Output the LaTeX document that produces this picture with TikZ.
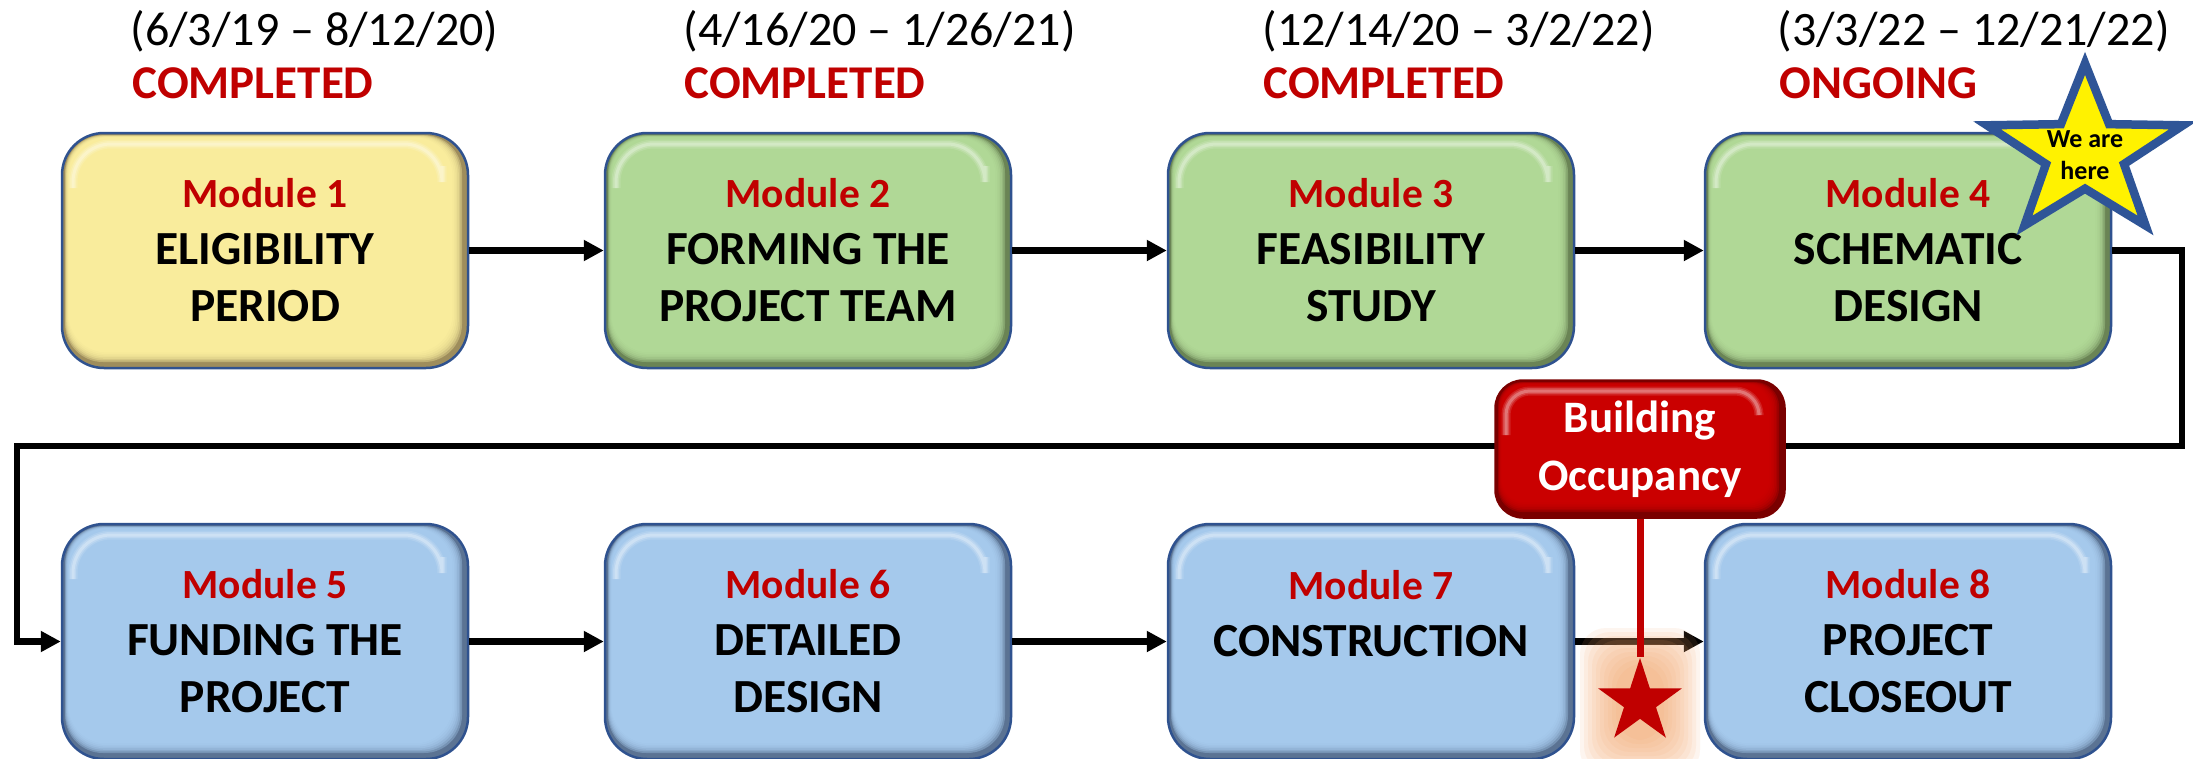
\documentclass[tikz,border=0pt]{standalone}
\usepackage{fontspec}
\setmainfont{Carlito}
\usetikzlibrary{arrows.meta,shapes.geometric,calc}

\definecolor{frame}{HTML}{2F528F}
\definecolor{titlered}{HTML}{C00000}
\definecolor{yelmain}{HTML}{FFF2A1}
\definecolor{yeldark}{HTML}{9E8D5C}
\definecolor{grnmain}{HTML}{B5DE9B}
\definecolor{grndark}{HTML}{6A8455}
\definecolor{blumain}{HTML}{AACFF2}
\definecolor{bludark}{HTML}{5B7393}
\definecolor{redmain}{HTML}{D00000}
\definecolor{reddark}{HTML}{7A0000}
\definecolor{starblue}{HTML}{2F5597}
\definecolor{glowc}{HTML}{F5A86E}

\newcommand\modtitle[1]{{\fontsize{41.5}{57}\selectfont\color{titlered}#1}}

\tikzset{
  % raised-button look: dark base, layered lighter face, soft top highlight
  bevel/.style n args={3}{fill=#2, path picture={
      \coordinate (pnw) at (path picture bounding box.north west);
      \coordinate (pse) at (path picture bounding box.south east);
      \foreach \i in {0,...,6}{
        \fill[#1, fill opacity=0.35, rounded corners=#3]
          ($(pnw)+(3+0.6*\i,2+0.4*\i)$) rectangle ($(pse)+(-6-1.6*\i,-6-1.6*\i)$);
      }
      \foreach \w/\o in {9/0.12,6/0.18,3/0.25}{
        \draw[white, draw opacity=\o, line width=\w pt, rounded corners=#3]
          ($(pnw)+(11,55)$) |- ($(pse|-pnw)+(-26,11)$) -- ++(0,22);
      }
  }},
  modbox/.style={draw=frame, line width=2.5pt, rounded corners=42pt,
    minimum width=406pt, minimum height=235pt, inner sep=0pt,
    align=center, font=\fontsize{47.5}{57}\selectfont\bfseries},
  datelbl/.style={anchor=base west, font=\fontsize{48}{50}\selectfont},
  statuslbl/.style={anchor=base west, font=\fontsize{47}{50}\selectfont\bfseries, text=titlered},
  conn/.style={line width=6.5pt, -{Triangle[length=20pt,width=20pt]}, line join=miter},
  occbox/.style={draw=reddark, line width=1.5pt, rounded corners=28pt,
    minimum width=290pt, minimum height=138pt, inner sep=0pt, align=center,
    text=white, font=\fontsize{45}{58}\selectfont\bfseries},
  occstar/.style={star, star points=5, star point ratio=2.618, minimum size=88pt, inner sep=0pt},
}

\begin{document}
\begin{tikzpicture}[x=1pt, y=-1pt]
\useasboundingbox (0,0) rectangle (2193,758);
\fill[white] (0,0) rectangle (2193,758);

% dates and status above the first row
\node[datelbl] (d1) at (127,45) {(6/3/19 – 8/12/20)};
\node[statuslbl] (s1) at (129,98) {COMPLETED};
\node[datelbl] (d2) at (680,45) {(4/16/20 – 1/26/21)};
\node[statuslbl] (s2) at (681,98) {COMPLETED};
\node[datelbl] (d3) at (1259,45) {(12/14/20 – 3/2/22)};
\node[statuslbl] (s3) at (1260,98) {COMPLETED};
\node[datelbl] (d4) at (1774,45) {(3/3/22 – 12/21/22)};
\node[statuslbl] (s4) at (1776,98) {ONGOING};

% module boxes
\node[modbox, bevel={yelmain}{yeldark}{38pt}] (m1) at (265,250.5)
  {\modtitle{Module 1}\\ELIGIBILITY\\PERIOD};
\node[modbox, bevel={grnmain}{grndark}{38pt}] (m2) at (808,250.5)
  {\modtitle{Module 2}\\FORMING THE\\PROJECT TEAM};
\node[modbox, bevel={grnmain}{grndark}{38pt}] (m3) at (1371,250.5)
  {\modtitle{Module 3}\\FEASIBILITY\\STUDY};
\node[modbox, bevel={grnmain}{grndark}{38pt}] (m4) at (1908,250.5)
  {\modtitle{Module 4}\\SCHEMATIC\\DESIGN};
\node[modbox, bevel={blumain}{bludark}{38pt}] (m5) at (265,641.5)
  {\modtitle{Module 5}\\FUNDING THE\\PROJECT};
\node[modbox, bevel={blumain}{bludark}{38pt}] (m6) at (808,641.5)
  {\modtitle{Module 6}\\DETAILED\\DESIGN};
\node[modbox, bevel={blumain}{bludark}{38pt}] (m7) at (1371,641.5)
  {\modtitle{Module 7}\\CONSTRUCTION\\\mbox{}};
\node[modbox, bevel={blumain}{bludark}{38pt}] (m8) at (1908,641.5)
  {\modtitle{Module 8}\\PROJECT\\CLOSEOUT};

% flow connectors
\draw[conn] (m1) -- (m2);
\draw[conn] (m2) -- (m3);
\draw[conn] (m3) -- (m4);
\coordinate (turnR) at (2182,446);
\coordinate (turnL) at (17,446);
\draw[conn] (m4.east) -| (turnR) -- (turnL) |- (m5.west);
\draw[conn] (m5) -- (m6);
\draw[conn] (m6) -- (m7);
\draw[conn] (m7) -- (m8);

% building occupancy milestone
\node[occbox, bevel={redmain}{reddark}{24pt}] (bo) at (1640,449) {Building\\Occupancy};
\coordinate (occpin) at (1640,702);
\foreach \k in {0,...,9}{
  \fill[glowc, fill opacity=0.11, rounded corners=26pt]
    ($(occpin)+(-24-4*\k,-38-4*\k)$) rectangle ($(occpin)+(24+4*\k,38+4*\k)$);
}
\node[occstar, fill=titlered] (ostar) at (occpin) {};
\draw[titlered, line width=7pt] (bo.south) -- (ostar.north);

% current position marker
\begin{scope}[shift={(2085,153)}, yscale=-0.87]
  \draw[starblue, line width=8.5pt, fill=yellow, line join=miter]
    (90:103) -- (126:41) -- (162:103) -- (198:41) -- (234:103) -- (270:41)
    -- (306:103) -- (342:41) -- (18:103) -- (54:41) -- cycle;
\end{scope}
\node[font=\fontsize{26}{32}\selectfont\bfseries, align=center] (here) at (2085,155) {We are\\here};
\end{tikzpicture}
\end{document}
